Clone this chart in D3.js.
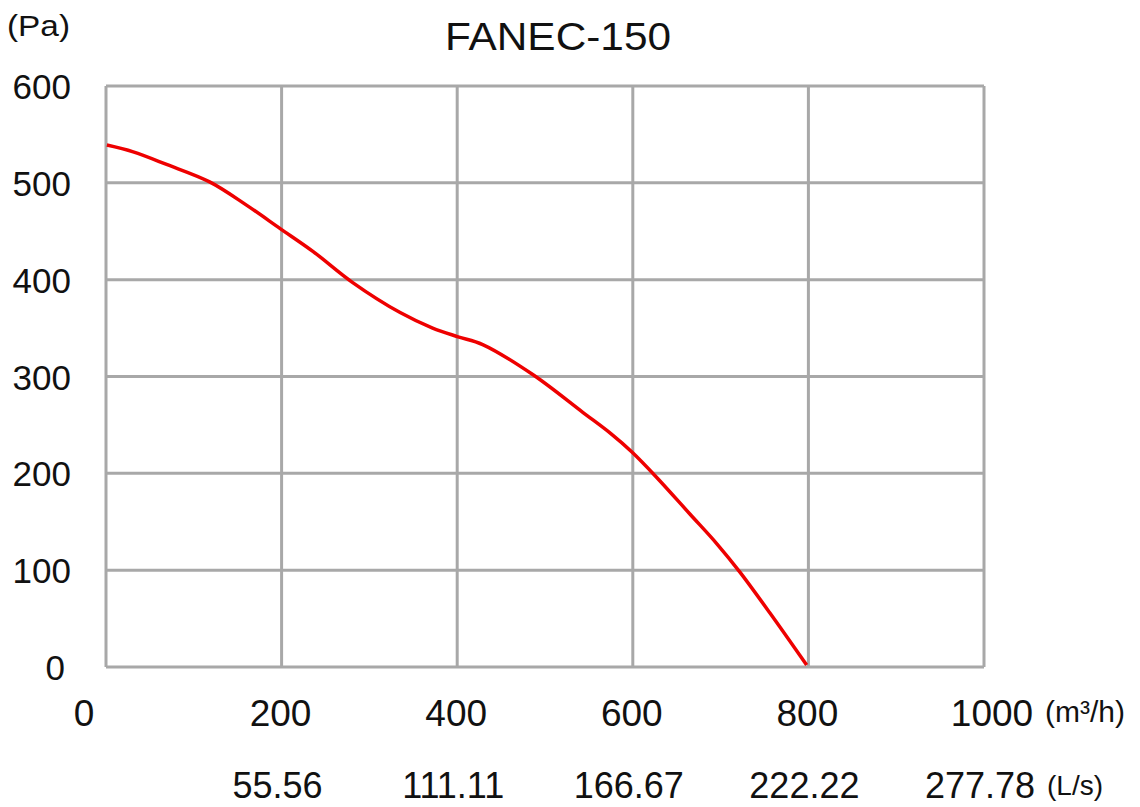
<!DOCTYPE html>
<html>
<head>
<meta charset="utf-8">
<script src="https://d3js.org/d3.v7.min.js"></script>
<style>
  body { margin: 0; background: #fff; }
  text { font-family: Arial, "Liberation Sans", sans-serif; fill: #111; }
</style>
</head>
<body>
<svg id="chart" width="1140" height="807"></svg>
<script>
// curve: airflow (m³/h) vs static pressure (Pa)
const flow     = [1, 31, 69, 118, 160, 198, 236, 281, 335, 372, 401, 429, 486, 543, 575, 599, 627, 665, 696, 722, 756, 798];
const pressure = [539, 532, 519, 501, 477, 453, 429, 397, 366, 350, 341, 333, 302, 263, 241, 222, 196, 158, 127, 98, 56, 2];

const xTicks = [0, 200, 400, 600, 800, 1000];
const yTicks = [0, 100, 200, 300, 400, 500, 600];
const lsLabels = ["55.56", "111.11", "166.67", "222.22", "277.78"];

const svg = d3.select("#chart");

const x = d3.scaleLinear().domain([0, 1000]).range([106, 984]);
const y = d3.scaleLinear().domain([0, 600]).range([667, 86]);

// grid
const grid = svg.append("g").attr("stroke", "#a8a8a8").attr("stroke-width", 3);
grid.selectAll("line.v").data(xTicks).join("line")
  .attr("x1", d => x(d)).attr("x2", d => x(d))
  .attr("y1", y(0)).attr("y2", y(600));
grid.selectAll("line.h").data(yTicks).join("line")
  .attr("x1", x(0)).attr("x2", x(1000))
  .attr("y1", d => y(d)).attr("y2", d => y(d));

// curve
const pts = flow.map((f, i) => [f, pressure[i]]);
svg.append("path")
  .datum(pts)
  .attr("fill", "none")
  .attr("stroke", "#ee0000")
  .attr("stroke-width", 3.5)
  .attr("stroke-linejoin", "round")
  .attr("d", d3.line().x(d => x(d[0])).y(d => y(d[1])).curve(d3.curveCatmullRom));

// y tick labels
svg.selectAll("text.ylab").data(yTicks).join("text")
  .attr("x", d => d === 0 ? 65 : 71)
  .attr("y", d => y(d) + 13)
  .attr("text-anchor", "end")
  .attr("font-size", 35)
  .text(d => d);

// x tick labels (m³/h)
const xOff = d => d === 0 ? -22 : d === 1000 ? 8 : -1;
svg.selectAll("text.xlab").data(xTicks).join("text")
  .attr("x", d => x(d) + xOff(d))
  .attr("y", 726)
  .attr("text-anchor", "middle")
  .attr("font-size", 37)
  .text(d => d);

// second row (L/s)
svg.selectAll("text.ls").data(lsLabels).join("text")
  .attr("x", (d, i) => x(xTicks[i + 1]) - 4)
  .attr("y", 798)
  .attr("text-anchor", "middle")
  .attr("font-size", 36)
  .text(d => d);

svg.append("text").attr("x", 1045).attr("y", 722).attr("font-size", 30).text("(m³/h)");
svg.append("text").attr("x", 1047).attr("y", 795).attr("font-size", 28).text("(L/s)");
svg.append("text").attr("x", 7).attr("y", 36).attr("font-size", 29)
  .attr("textLength", 63).attr("lengthAdjust", "spacingAndGlyphs")
  .text("(Pa)");

svg.append("text")
  .attr("x", 558).attr("y", 50)
  .attr("text-anchor", "middle")
  .attr("font-size", 39)
  .attr("textLength", 226).attr("lengthAdjust", "spacingAndGlyphs")
  .text("FANEC-150");
</script>
</body>
</html>
